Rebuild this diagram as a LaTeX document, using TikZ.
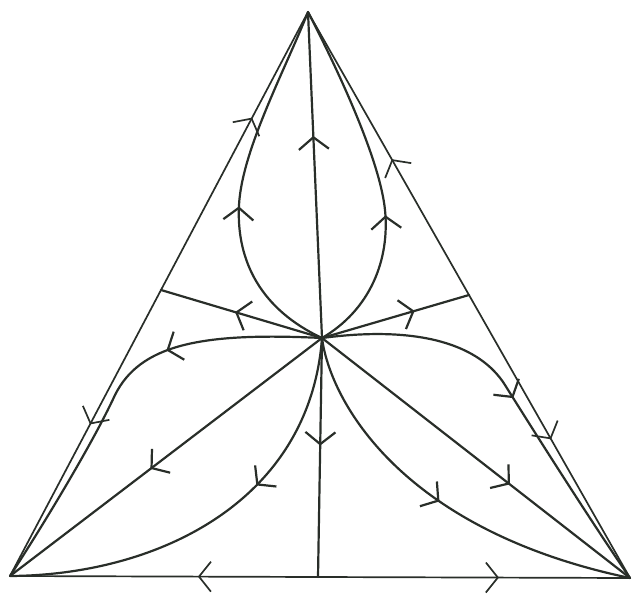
\documentclass[tikz,border=0pt]{standalone}
\usetikzlibrary{arrows.meta,decorations.markings}
\definecolor{inkc}{rgb}{0.16,0.18,0.16}
\tikzset{
  ink/.style={draw=inkc, line width=2.2pt, line cap=round, line join=round},
  edge/.style={draw=inkc, line width=1.7pt, line cap=round, line join=round},
  arr/.style={postaction={decorate}, decoration={markings,
      mark=at position #1 with {\arrow{Straight Barb[length=12pt,width=30pt]}}}}
}
\begin{document}
\begin{tikzpicture}[x=1pt,y=-1pt]
\useasboundingbox (0,0) rectangle (637,599);
\coordinate (T) at (308,12);
\coordinate (L) at (10,576);
\coordinate (R) at (630,578);
\coordinate (C) at (322,338);
\coordinate (ML) at (161,290);
\coordinate (MR) at (469,295);
\coordinate (MB) at (318,577);
% triangle edges
\draw[edge,arr=0.62] (ML) -- (T);
\draw[edge,arr=0.47] (ML) -- (L);
\draw[edge,arr=0.48] (MR) -- (T);
\draw[edge,arr=0.51] (MR) -- (R);
\draw[edge,arr=0.39] (MB) -- (L);
\draw[edge,arr=0.58] (MB) -- (R);
% straight separatrices from the centre
\draw[ink,arr=0.62] (C) -- (T);
\draw[ink,arr=0.45] (C) -- (MB);
\draw[ink,arr=0.54] (C) -- (ML);
\draw[ink,arr=0.63] (C) -- (MR);
\draw[ink,arr=0.55] (C) -- (L);
\draw[ink,arr=0.61] (C) -- (R);
% teardrop curves to the top vertex
\draw[ink,arr=0.445] (C) .. controls (262,310) and (236,262) .. (239,205)
  .. controls (242,150) and (285,70) .. (T);
\draw[ink,arr=0.40] (C) .. controls (370,310) and (390,260) .. (385,210)
  .. controls (380,160) and (338,70) .. (T);
% curves to the bottom-left vertex
\draw[ink,arr=0.36] (C) .. controls (200,332) and (140,345) .. (115,395)
  .. controls (92,445) and (40,530) .. (L);
\draw[ink,arr=0.38] (C) .. controls (310,500) and (160,575) .. (L);
% curves to the bottom-right vertex
\draw[ink,arr=0.50] (C) .. controls (420,325) and (480,345) .. (505,385)
  .. controls (530,425) and (590,520) .. (R);
\draw[ink,arr=0.50] (C) .. controls (330,400) and (400,530) .. (R);
\end{tikzpicture}
\end{document}
